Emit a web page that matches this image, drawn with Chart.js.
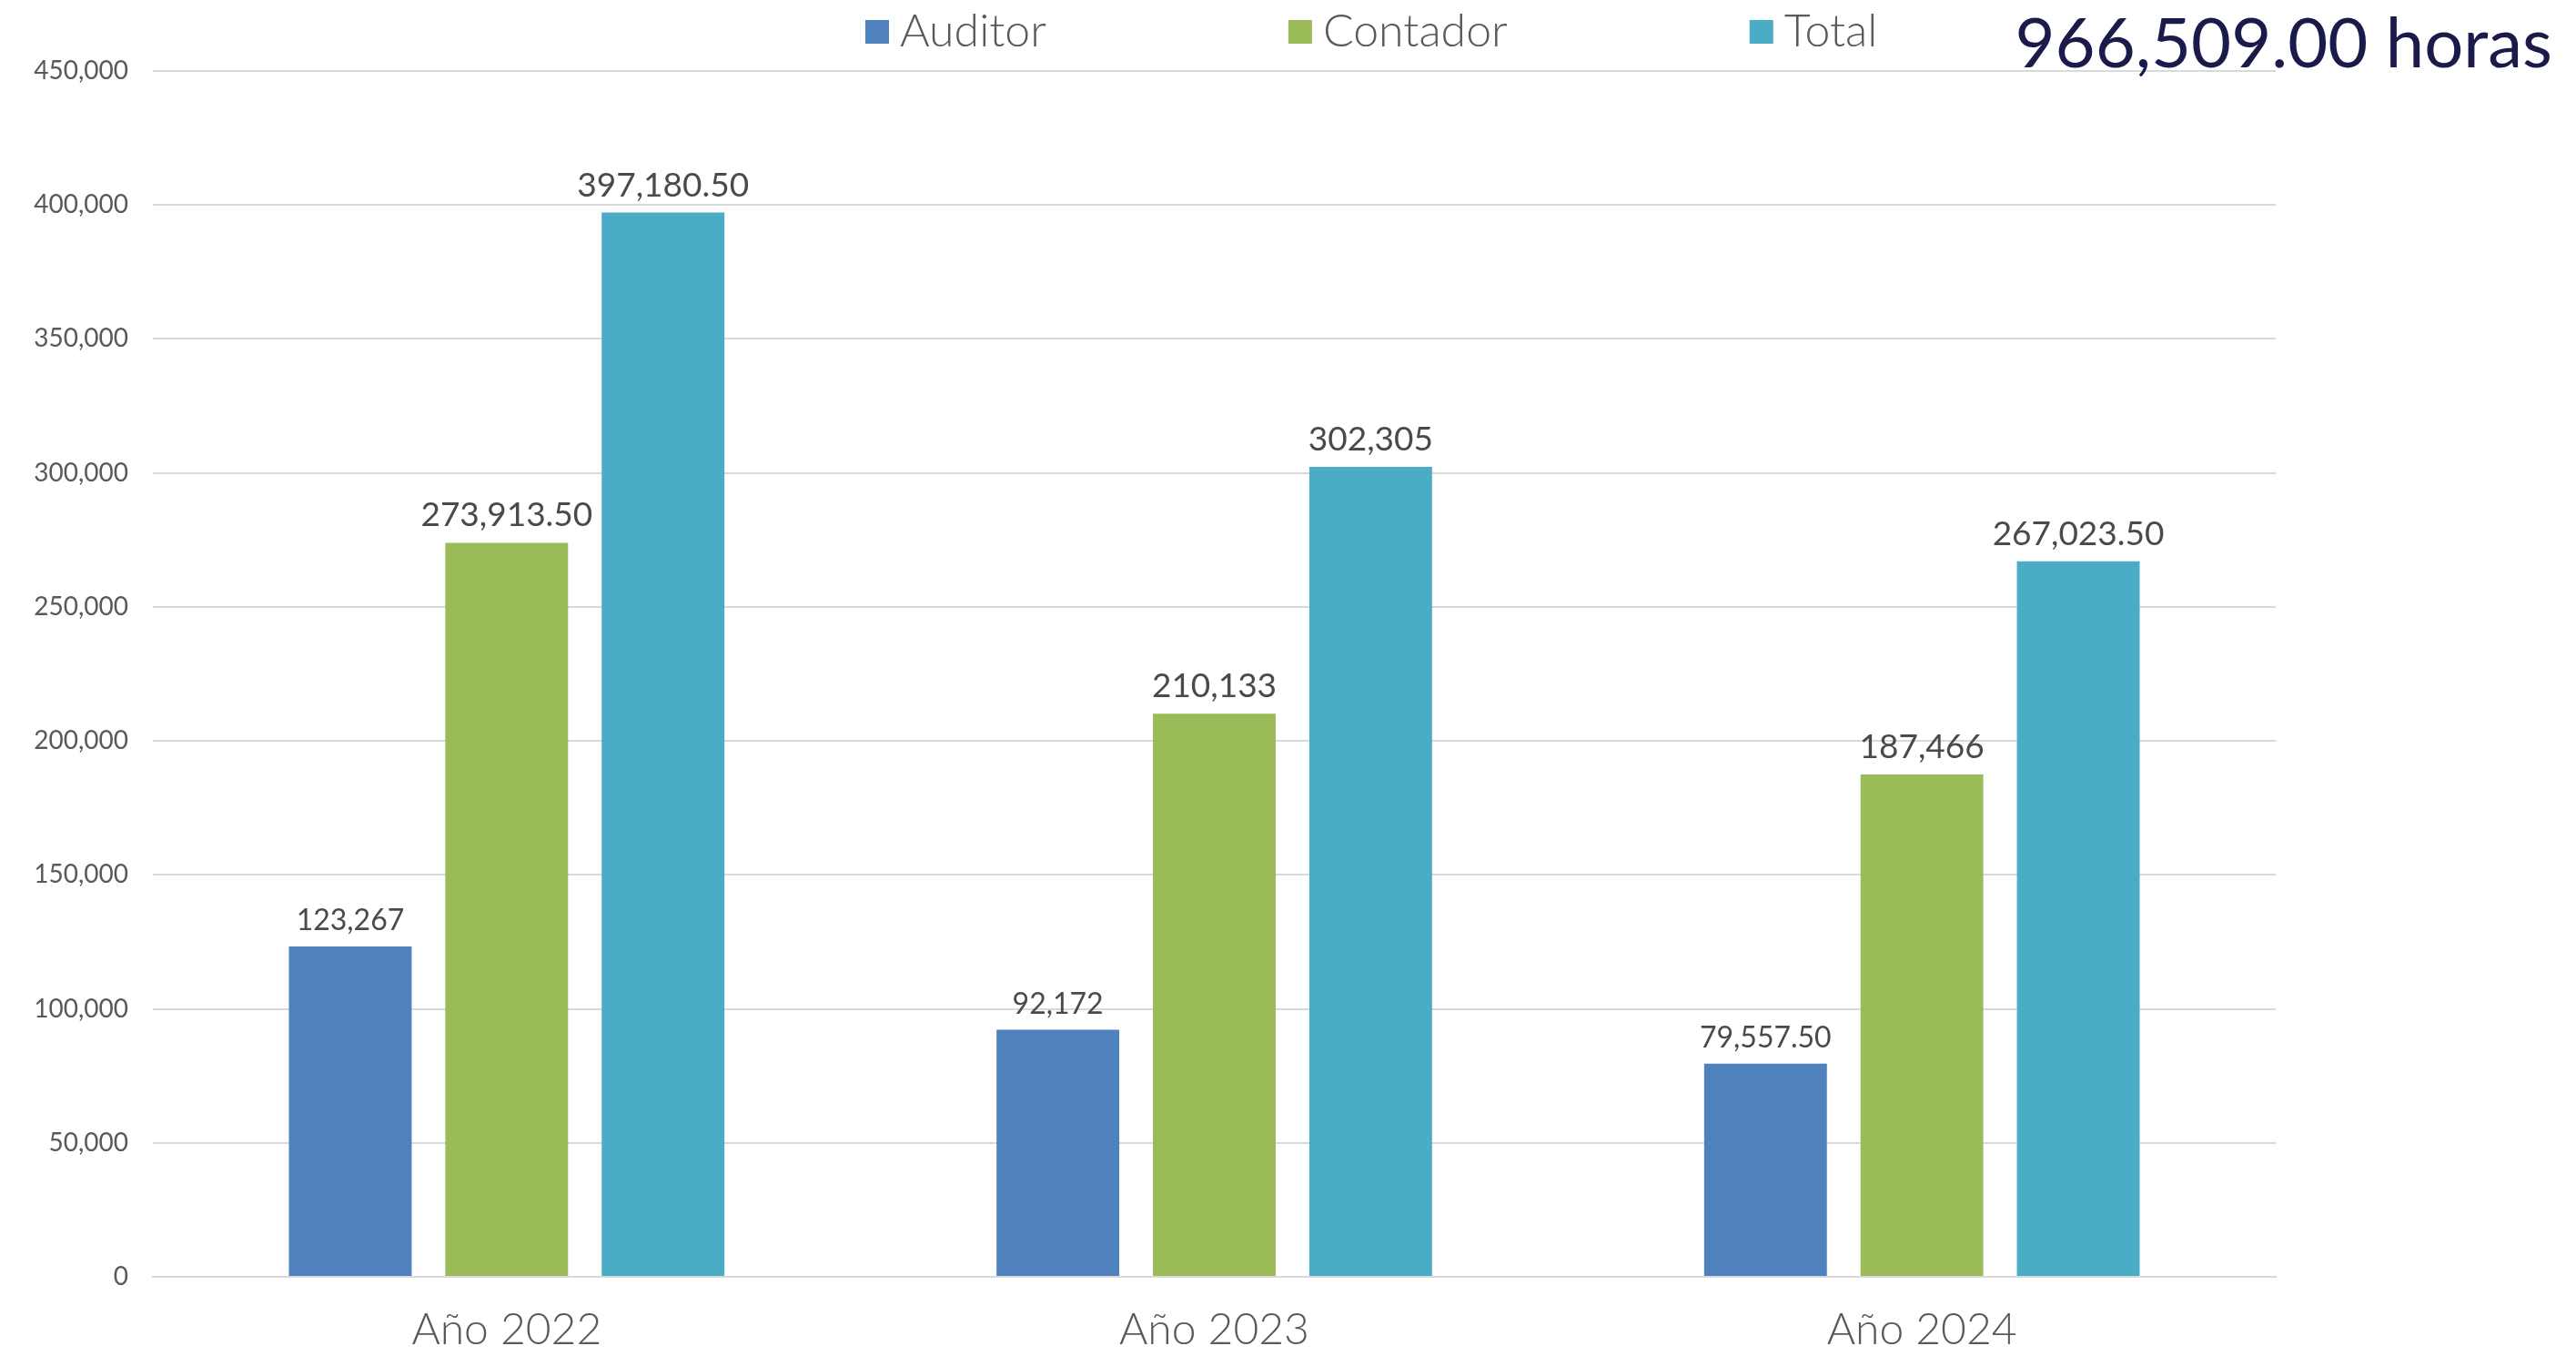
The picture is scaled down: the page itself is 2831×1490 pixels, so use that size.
<!DOCTYPE html>
<html>
<head>
<meta charset="utf-8">
<script src="https://cdn.jsdelivr.net/npm/chart.js@4/dist/chart.umd.min.js"></script>
<style>
html,body{margin:0;padding:0;background:#fff;}
canvas{display:block;}
</style>
</head>
<body>
<canvas id="c" width="2831" height="1490"></canvas>
<script>
const categories = ["Año 2022", "Año 2023", "Año 2024"];
const auditor = [123267, 92172, 79557.5];
const contador = [273913.5, 210133, 187466];
const total = [397180.5, 302305, 267023.5];
const auditorLabels = ["123,267", "92,172", "79,557.50"];
const contadorLabels = ["273,913.50", "210,133", "187,466"];
const totalLabels = ["397,180.50", "302,305", "267,023.50"];
const seriesNames = ["Auditor", "Contador", "Total"];
const titleText = "966,509.00 horas";
const yMax = 450000;
const yStep = 50000;

const FONT = "Lato, 'Open Sans', sans-serif";

const labelPlugin = {
  id: 'barLabels',
  afterDatasetsDraw(chart) {
    const ctx = chart.ctx;
    const sets = [auditorLabels, contadorLabels, totalLabels];
    const sizes = [32, 37, 37];
    chart.data.datasets.forEach((ds, di) => {
      const meta = chart.getDatasetMeta(di);
      meta.data.forEach((bar, i) => {
        ctx.save();
        ctx.font = sizes[di] + "px " + FONT;
        ctx.fillStyle = "#4a4a4a";
        ctx.textAlign = "center";
        ctx.textBaseline = "alphabetic";
        ctx.fillText(sets[di][i], bar.x, bar.y - 18);
        ctx.restore();
      });
    });
  }
};

const legendPlugin = {
  id: 'customLegend',
  afterDraw(chart) {
    const ctx = chart.ctx;
    ctx.save();
    ctx.font = "300 50px " + FONT;
    ctx.textBaseline = "middle";
    ctx.textAlign = "left";
    let x = 951;
    const y = 35;
    chart.data.datasets.forEach((ds) => {
      ctx.fillStyle = ds.backgroundColor;
      ctx.fillRect(x, y - 13, 26, 26);
      ctx.fillStyle = "#595959";
      ctx.fillText(ds.label, x + 38, y);
      x += 38 + ctx.measureText(ds.label).width + 266;
    });
    ctx.font = "76px " + FONT;
    ctx.fillStyle = "#1b1b4b";
    ctx.textAlign = "right";
    ctx.textBaseline = "alphabetic";
    ctx.fillText(titleText, 2805, 74);
    ctx.restore();
  }
};

new Chart(document.getElementById('c'), {
  type: 'bar',
  data: {
    labels: categories,
    datasets: [
      { label: seriesNames[0], data: auditor, backgroundColor: "#4f81bd" },
      { label: seriesNames[1], data: contador, backgroundColor: "#9bbb59" },
      { label: seriesNames[2], data: total, backgroundColor: "#4bacc6" }
    ]
  },
  options: {
    responsive: false,
    animation: false,
    devicePixelRatio: 1,
    layout: { padding: { top: 78, right: 330, left: 0, bottom: 0 } },
    datasets: { bar: { categoryPercentage: 0.663, barPercentage: 0.785 } },
    plugins: { legend: { display: false }, tooltip: { enabled: false } },
    scales: {
      x: {
        grid: { display: false, drawTicks: false },
        border: { display: true, color: "#d9d9d9", width: 2 },
        ticks: { color: "#595959", font: { family: FONT, size: 48, weight: 300 }, padding: 30 },
        afterFit(s) { s.height = 87; }
      },
      y: {
        min: 0, max: yMax,
        grid: { color: "#d9d9d9", lineWidth: 2, drawTicks: false },
        border: { display: false },
        ticks: {
          stepSize: yStep,
          color: "#595959",
          font: { family: FONT, size: 28 },
          padding: 27,
          callback: v => v.toLocaleString('en-US')
        },
        afterFit(s) { s.width = 168; }
      }
    }
  },
  plugins: [labelPlugin, legendPlugin]
});
</script>
</body>
</html>
